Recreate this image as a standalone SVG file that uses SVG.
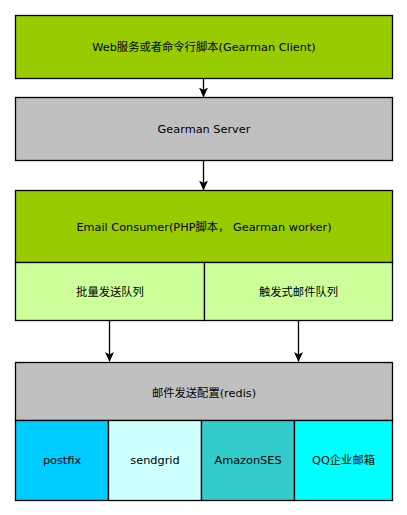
<svg xmlns="http://www.w3.org/2000/svg" width="407" height="515" viewBox="0 0 407 515">
<style>
.b{stroke:#000;stroke-width:1.3}
.t{font-family:"DejaVu Sans","Noto Sans CJK SC",sans-serif;font-size:11.3px;fill:#000;text-anchor:middle}
.c{stroke:#000;stroke-width:1.3;fill:none}
</style>
<defs>
<marker id="ah" markerUnits="userSpaceOnUse" markerWidth="10" markerHeight="11" refX="9" refY="5" orient="auto" viewBox="0 0 10 10">
<path d="M0,0.5 L10,5 L0,9.5 L2.5,5 Z" fill="#000"/>
</marker>
</defs>
<rect width="407" height="515" fill="#fff"/>
<g id="client">
<rect class="b" x="15.5" y="15.5" width="377" height="63" fill="#99cc00"/>
<text class="t" x="204" y="51">Web服务或者命令行脚本(Gearman Client)</text>
</g>
<g id="server">
<rect class="b" x="15.5" y="97.5" width="377" height="63" fill="#c0c0c0"/>
<text class="t" x="204" y="133">Gearman Server</text>
</g>
<g id="consumer">
<rect class="b" x="15.5" y="190.5" width="377" height="72" fill="#99cc00"/>
<text class="t" x="204" y="231">Email Consumer(PHP脚本， Gearman worker)</text>
</g>
<g id="batch">
<rect class="b" x="15.5" y="262.5" width="189" height="58" fill="#ccff99"/>
<text class="t" x="110" y="296">批量发送队列</text>
</g>
<g id="trigger">
<rect class="b" x="204.5" y="262.5" width="188" height="58" fill="#ccff99"/>
<text class="t" x="298.5" y="296">触发式邮件队列</text>
</g>
<g id="config">
<rect class="b" x="15.5" y="362.5" width="377" height="58" fill="#c0c0c0"/>
<text class="t" x="204" y="397">邮件发送配置(redis)</text>
</g>
<g id="postfix">
<rect class="b" x="15.5" y="420.5" width="93" height="80" fill="#00ccff"/>
<text class="t" x="62" y="464">postfix</text>
</g>
<g id="sendgrid">
<rect class="b" x="108.5" y="420.5" width="93" height="80" fill="#ccffff"/>
<text class="t" x="155" y="464">sendgrid</text>
</g>
<g id="amazonses">
<rect class="b" x="201.5" y="420.5" width="93" height="80" fill="#33cccc"/>
<text class="t" x="248" y="464">AmazonSES</text>
</g>
<g id="qq">
<rect class="b" x="294.5" y="420.5" width="98" height="80" fill="#00ffff"/>
<text class="t" x="343.5" y="464">QQ企业邮箱</text>
</g>
<g id="connectors">
<line class="c" x1="203.5" y1="79" x2="203.5" y2="96.5" marker-end="url(#ah)"/>
<line class="c" x1="203.5" y1="161" x2="203.5" y2="189.5" marker-end="url(#ah)"/>
<line class="c" x1="109.5" y1="321" x2="109.5" y2="361" marker-end="url(#ah)"/>
<line class="c" x1="298.5" y1="321" x2="298.5" y2="361" marker-end="url(#ah)"/>
</g>
</svg>
